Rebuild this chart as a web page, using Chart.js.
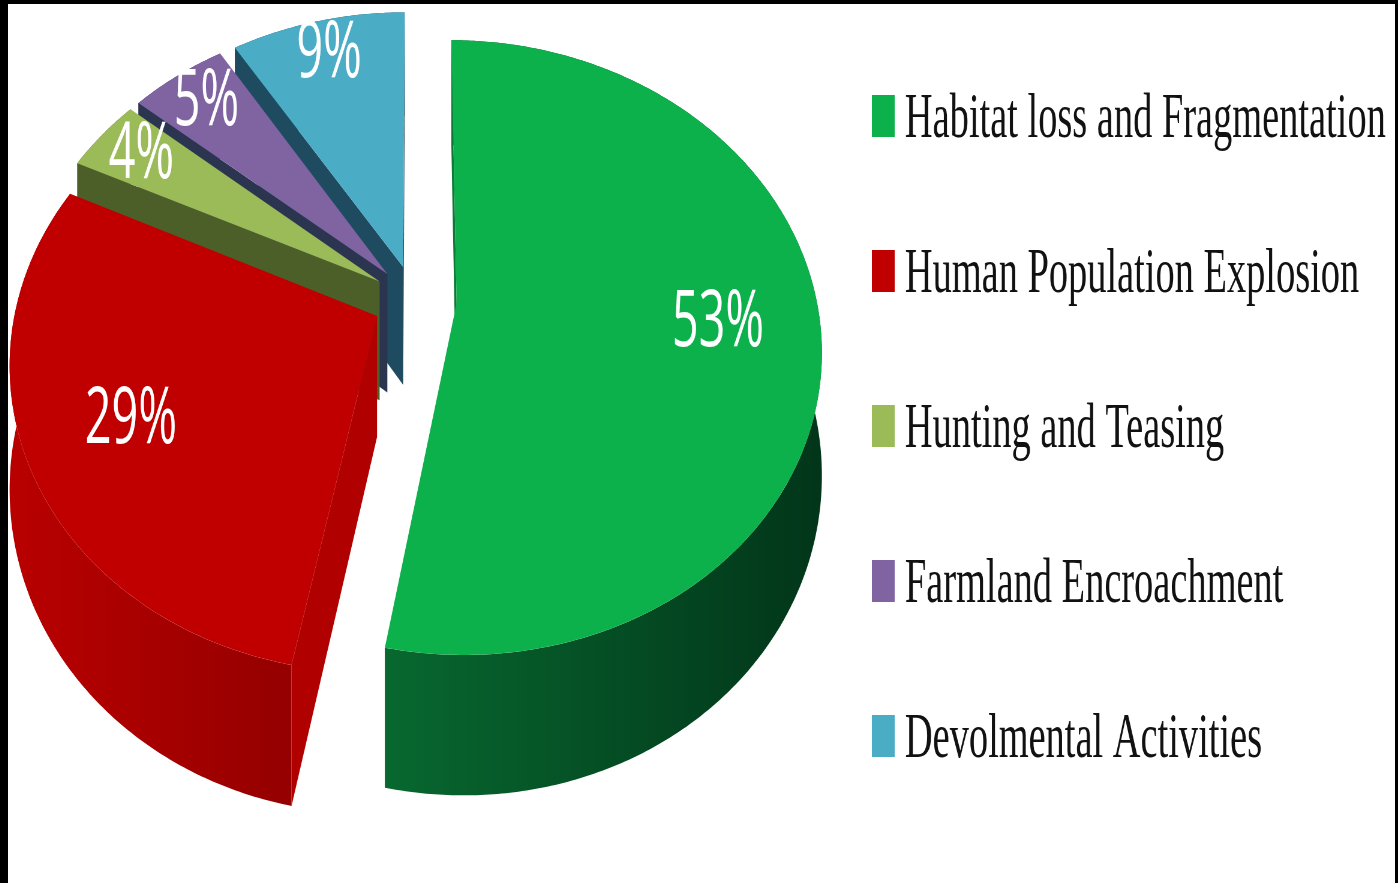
<!DOCTYPE html>
<html>
<head>
<meta charset="utf-8">
<script src="https://cdn.jsdelivr.net/npm/chart.js@4.4.1/dist/chart.umd.min.js"></script>
<style>
  html, body { margin: 0; padding: 0; background: #fff; }
  #frame {
    position: absolute; left: 0; top: 0;
    width: 1387px; height: 879px; background: #fff;
    border-left: 8px solid #000; border-top: 4px solid #000; border-right: 3px solid #000;
  }
  #chart { display: block; }
</style>
</head>
<body>
<div id="frame"><canvas id="chart" width="2312" height="879" style="width:1387px;height:879px"></canvas></div>
<script>
var labels = [
  'Habitat loss and Fragmentation',
  'Human Population Explosion',
  'Hunting and Teasing',
  'Farmland Encroachment',
  'Devolmental Activities'
];
var shares = [53, 29, 4, 5, 9];
var topColors = ['#0db14b', '#c00000', '#9bbb59', '#8064a2', '#4bacc6'];
var wallLight = ['#0c8a3e', '#b80000', '#5a6e2e', '#3f3a60', '#2a6a80'];
var wallDark = ['#02361a', '#5c0000', '#3e4c1f', '#262a40', '#163a4c'];
var cutColors = ['#0a7a36', '#b00000', '#4d5f28', '#2c3550', '#1f4b60'];

// canvas is drawn wide and squeezed to 60% by css, so the pie comes out narrow
var TILT = 0.5;      // vertical squash of the pie plane
var DEPTH = 120;     // height of the walls
var EXPLODE = 70;    // how far each slice is pulled out
var PERSP = 4170;    // camera distance for the perspective

function geom(a) {
  var mid = (a.startAngle + a.endAngle) / 2;
  return { mid: mid, ox: Math.cos(mid) * EXPLODE, oy: Math.sin(mid) * EXPLODE };
}

// pie plane (px, py) at depth z -> canvas
function project(a, px, py, z) {
  var k = PERSP / (PERSP - py);
  return [a.x + px * k, a.y + (py * TILT + z) * k];
}

function rim(a, g, z) {
  var pts = [];
  var n = Math.max(8, Math.ceil((a.endAngle - a.startAngle) / 0.01));
  for (var j = 0; j <= n; j++) {
    var t = a.startAngle + (a.endAngle - a.startAngle) * j / n;
    pts.push(project(a, g.ox + a.outerRadius * Math.cos(t), g.oy + a.outerRadius * Math.sin(t), z));
  }
  return pts;
}

function fillPoly(ctx, pts, style) {
  ctx.beginPath();
  pts.forEach(function(p, j) {
    if (j === 0) ctx.moveTo(p[0], p[1]); else ctx.lineTo(p[0], p[1]);
  });
  ctx.closePath();
  ctx.fillStyle = style;
  ctx.fill();
}

function cutWall(a, g, ang, z0, z1) {
  var rx = g.ox + a.outerRadius * Math.cos(ang), ry = g.oy + a.outerRadius * Math.sin(ang);
  return [project(a, g.ox, g.oy, z0), project(a, rx, ry, z0),
          project(a, rx, ry, z1), project(a, g.ox, g.oy, z1)];
}

var pie3d = {
  id: 'pie3d',
  beforeDatasetsDraw: function(chart) {
    var ctx = chart.ctx;
    var arcs = chart.getDatasetMeta(0).data;
    var order = arcs.map(function(a, i) { return i; });
    order.sort(function(i, j) {
      return Math.sin(geom(arcs[i]).mid) - Math.sin(geom(arcs[j]).mid);
    });

    ctx.save();
    order.forEach(function(i) {
      var a = arcs[i], g = geom(a);
      var s = a.startAngle, e = a.endAngle;

      // outer wall
      var top = rim(a, g, 0), bottom = rim(a, g, DEPTH).reverse();
      var x0 = a.x + g.ox - a.outerRadius, x1 = a.x + g.ox + a.outerRadius;
      var grad = ctx.createLinearGradient(x0, 0, x1, 0);
      grad.addColorStop(0, wallLight[i]);
      grad.addColorStop(1, wallDark[i]);
      fillPoly(ctx, top.concat(bottom), grad);

      // cut faces that turn towards the camera
      var dStart = Math.sin(s) * (-g.ox) - Math.cos(s) * (PERSP - g.oy);
      var dEnd = -Math.sin(e) * (-g.ox) + Math.cos(e) * (PERSP - g.oy);
      if (dStart > 0) fillPoly(ctx, cutWall(a, g, s, 0, DEPTH), cutColors[i]);
      if (dEnd > 0) fillPoly(ctx, cutWall(a, g, e, 0, DEPTH), cutColors[i]);

      // top face
      var face = [project(a, g.ox, g.oy, 0)].concat(top);
      fillPoly(ctx, face, a.options.backgroundColor);
    });
    ctx.restore();
    return false;
  },
  afterDraw: function(chart) {
    var ctx = chart.ctx;
    var arcs = chart.getDatasetMeta(0).data;

    // percentage labels on the slices
    ctx.save();
    ctx.fillStyle = '#ffffff';
    ctx.font = '78px "Open Sans"';
    ctx.textAlign = 'center';
    ctx.textBaseline = 'middle';
    arcs.forEach(function(a, i) {
      var g = geom(a);
      var rr = a.outerRadius * (shares[i] >= 20 ? 0.72 : 0.85);
      var p = project(a, g.ox + rr * Math.cos(g.mid), g.oy + rr * Math.sin(g.mid), 0);
      ctx.fillText(shares[i] + '%', p[0], p[1]);
    });
    ctx.restore();

    // legend on the right
    ctx.save();
    ctx.font = '64px "Liberation Serif"';
    ctx.textAlign = 'left';
    ctx.textBaseline = 'alphabetic';
    labels.forEach(function(t, i) {
      var top = 91 + i * 155;
      ctx.fillStyle = topColors[i];
      ctx.fillRect(1440, top, 38, 42);
      ctx.fillStyle = '#111111';
      ctx.fillText(t, 1495, top + 42);
    });
    ctx.restore();
  }
};

new Chart(document.getElementById('chart'), {
  type: 'pie',
  data: {
    labels: labels,
    datasets: [{
      data: shares,
      backgroundColor: topColors,
      borderWidth: 0,
      radius: 600,
      clip: false
    }]
  },
  options: {
    responsive: false,
    devicePixelRatio: 1,
    animation: false,
    events: [],
    layout: { padding: { left: 0, top: 0, right: 956, bottom: 287 } },
    plugins: {
      legend: { display: false },
      tooltip: { enabled: false }
    }
  },
  plugins: [pie3d]
});
</script>
</body>
</html>
